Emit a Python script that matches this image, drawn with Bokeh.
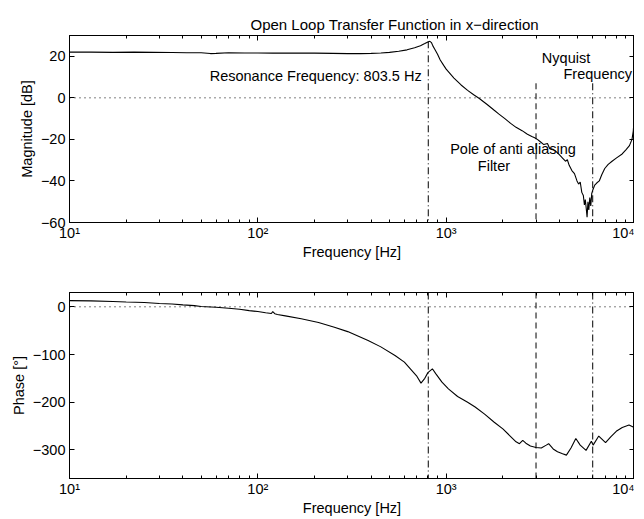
from bokeh.plotting import figure
from bokeh.layouts import column
from bokeh.models import (LogAxis, LinearAxis, FixedTicker, Range1d, Span,
                          CustomJSTickFormatter, ColumnDataSource)
from bokeh.core.properties import value
from bokeh.embed import file_html
from bokeh.resources import INLINE

FONT = "Liberation Sans"
FS = "14.5px"

# ---------------- data ----------------
mag_freq = [10, 13, 17, 22, 28, 35, 42, 50, 56, 60, 70, 85, 100, 120, 150, 200,
            250, 300, 350, 400, 450, 500, 560, 620, 680, 730, 770, 800, 820, 835,
            850, 870, 900, 930, 970, 1000, 1100, 1200, 1300, 1400, 1500, 1650,
            1800, 1900, 2050, 2200, 2350, 2530, 2700, 2850, 2950, 3050, 3150,
            3300, 3450, 3550, 3700, 3850, 4000, 4150, 4300, 4400, 4500, 4650,
            4800, 4950, 5050, 5150, 5250, 5350, 5420, 5480, 5540, 5600, 5660,
            5720, 5790, 5860, 5930, 6000, 6150, 6300, 6500, 6700, 6950, 7250,
            7600, 8000, 8600, 9000, 9400, 9700, 9850, 10000]
mag_db = [22.0, 22.0, 21.9, 22.0, 21.9, 21.8, 21.7, 21.7, 21.3, 21.4, 21.7, 21.6,
          21.6, 21.5, 21.6, 21.5, 21.4, 21.3, 21.3, 21.4, 21.6, 21.9, 22.4, 23.1,
          24.1, 25.1, 26.1, 26.9, 27.2, 26.6, 25.0, 23.4, 21.0, 18.2, 15.6, 13.8,
          9.5, 6.2, 3.6, 1.5, -0.3, -3.2, -6.0, -7.7, -10.0, -12.3, -14.2, -15.8,
          -17.5, -18.6, -19.2, -20.0, -21.0, -22.5, -22.0, -24.5, -24.8, -26.0,
          -27.5, -29.0, -30.5, -29.8, -32.5, -35.0, -36.5, -40.0, -41.5, -40.5,
          -45.5, -47.0, -51.5, -49.0, -53.0, -57.5, -50.0, -54.0, -48.0, -52.0,
          -46.0, -44.5, -42.0, -41.0, -40.0, -37.0, -34.0, -32.0, -30.5, -29.0,
          -27.0, -25.0, -23.0, -20.0, -16.0, -8.0]

phase_freq = [10, 13, 17, 20, 25, 30, 35, 40, 46, 50, 53, 60, 70, 80, 90, 100,
              110, 118, 120, 123, 127, 140, 170, 210, 255, 300, 385, 450, 535,
              600, 656, 700, 735, 770, 800, 845, 880, 950, 1028, 1150, 1300, 1425,
              1600, 1800, 2000, 2200, 2350, 2450, 2550, 2650, 2800, 3000, 3200,
              3400, 3500, 3700, 3900, 4150, 4350, 4600, 4880, 5150, 5530, 5900,
              6030, 6460, 7020, 7500, 8000, 8610, 9350, 9840, 10000]
phase_deg = [13, 12.5, 11, 10, 9, 7, 6, 4, 2.5, 0.5, 0, -1, -3, -5, -8, -10,
             -12.5, -14, -10, -14.5, -16, -19, -25, -33, -42.7, -52, -70.6, -84,
             -102, -116, -133.5, -146, -160, -150, -138, -130, -140, -158, -172,
             -188, -200, -210, -225, -242, -256, -272, -283, -287, -280, -286,
             -292, -295, -296, -290, -287, -298, -304, -308, -311, -296, -276,
             -290, -301, -282, -290, -271, -285, -272, -261, -253, -248, -252,
             -256]

resonance_hz = 803.5
antialias_hz = 3000
nyquist_hz = 6000
marker_top_db = 7          # where the filter / Nyquist markers start in the top plot

x_major = [10, 100, 1000, 10000]
x_minor = [m * d for d in (10, 100, 1000) for m in range(2, 10)]
mag_ticks = [-60, -40, -20, 0, 20]
phase_ticks = [-300, -200, -100, 0]
mag_range = (-60, 30)
phase_range = (-360, 30)
freq_range = (10, 10000)

title_text = "Open Loop Transfer Function in x\u2212direction"
res_label = "Resonance Frequency: 803.5 Hz"
x_label = "Frequency [Hz]"

# ---------------- helpers ----------------
pow_fmt = CustomJSTickFormatter(code="""
const sup = {0:'\u2070',1:'\u00b9',2:'\u00b2',3:'\u00b3',4:'\u2074'};
const e = Math.round(Math.log10(tick));
return '10' + sup[e];
""")
minus_fmt = CustomJSTickFormatter(code="""
return tick < 0 ? '\u2212' + (-tick) : '' + tick;
""")
blank_fmt = CustomJSTickFormatter(code="return '';")


def style(ax, labels=True):
    ax.major_tick_in = 5
    ax.major_tick_out = 0
    ax.minor_tick_in = 3
    ax.minor_tick_out = 0
    ax.axis_line_color = "black"
    ax.major_tick_line_color = "black"
    ax.minor_tick_line_color = "black"
    ax.major_label_text_font = FONT
    ax.major_label_text_font_size = FS if labels else "0px"
    ax.major_label_text_color = "black"
    ax.major_label_text_line_height = 1.0
    ax.major_label_standoff = 2 if labels else 0
    ax.axis_label_text_font = FONT
    ax.axis_label_text_font_size = FS
    ax.axis_label_text_font_style = "normal"
    ax.axis_label_text_color = "black"
    ax.axis_label_text_line_height = 1.0


def make_fig(height, top, bottom, yr, yticks):
    p = figure(width=634, height=height, x_axis_type="log",
               x_range=Range1d(*freq_range), y_range=Range1d(*yr),
               output_backend="svg", toolbar_location=None,
               min_border_left=69, min_border_right=0,
               min_border_top=top, min_border_bottom=bottom)
    p.grid.visible = False
    p.outline_line_color = "black"
    p.outline_line_alpha = 1
    p.background_fill_color = "white"
    p.border_fill_color = "white"
    xt = FixedTicker(ticks=x_major, minor_ticks=x_minor)
    yt = FixedTicker(ticks=yticks, minor_ticks=[])
    p.xaxis.ticker = xt
    p.xaxis.formatter = pow_fmt
    p.yaxis.ticker = yt
    p.yaxis.formatter = minus_fmt
    p.xaxis.axis_label = x_label
    for ax in p.xaxis + p.yaxis:
        style(ax)
    p.xaxis.axis_label_standoff = 0
    p.yaxis.major_label_standoff = 4
    p.yaxis.axis_label_standoff = 3
    top_ax = LogAxis(ticker=xt, formatter=blank_fmt)
    right_ax = LinearAxis(ticker=yt, formatter=blank_fmt)
    style(top_ax, False)
    style(right_ax, False)
    p.add_layout(top_ax, "above")
    p.add_layout(right_ax, "right")
    p.add_layout(Span(location=0, dimension="width", line_color="black",
                      line_dash="1 4", line_width=1))
    return p


# ---------------- magnitude ----------------
p1 = make_fig(262, 35, 40, mag_range, mag_ticks)
p1.yaxis[0].axis_label = "Magnitude [dB]"
p1.title.text = title_text
p1.title.text_font = FONT
p1.title.text_font_size = "15px"
p1.title.text_font_style = "normal"
p1.title.text_color = "black"
p1.title.align = "left"
p1.title.offset = 181
p1.title.standoff = 6

p1.line(mag_freq, mag_db, line_color="black", line_width=1.1)
peak_db = max(mag_db)
p1.segment(x0=[resonance_hz], y0=[peak_db], x1=[resonance_hz], y1=[mag_range[0]],
           line_color="black", line_dash="7 3 1 3", line_width=1)
p1.segment(x0=[antialias_hz], y0=[marker_top_db], x1=[antialias_hz], y1=[mag_range[0]],
           line_color="black", line_dash="6 4", line_width=1)
p1.segment(x0=[nyquist_hz], y0=[marker_top_db], x1=[nyquist_hz], y1=[mag_range[0]],
           line_color="black", line_dash="7 3 1 3", line_width=1)

ann = ColumnDataSource(dict(
    x=[741, 4330, 9700, 2265, 1793],
    y=[10.3, 19.4, 11.7, -24.4, -32.6],
    t=[res_label, "Nyquist", "Frequency", "Pole of anti aliasing", "Filter"],
    a=["right", "center", "right", "center", "center"],
))
p1.text(x="x", y="y", text="t", text_align="a", source=ann,
        text_baseline="middle", text_font=value(FONT), text_font_size=FS,
        text_color="black")

# ---------------- phase ----------------
p2 = make_fig(257, 30, 41, phase_range, phase_ticks)
p2.yaxis[0].axis_label = "Phase [\u00b0]"
p2.line(phase_freq, phase_deg, line_color="black", line_width=1.1)
p2.segment(x0=[resonance_hz, nyquist_hz], y0=[phase_range[1]] * 2,
           x1=[resonance_hz, nyquist_hz], y1=[phase_range[0]] * 2,
           line_color="black", line_dash="7 3 1 3", line_width=1)
p2.segment(x0=[antialias_hz], y0=[phase_range[1]], x1=[antialias_hz], y1=[phase_range[0]],
           line_color="black", line_dash="6 4", line_width=1)

layout = column(p1, p2, spacing=0)
open("out.html", "w").write(file_html(layout, INLINE))
